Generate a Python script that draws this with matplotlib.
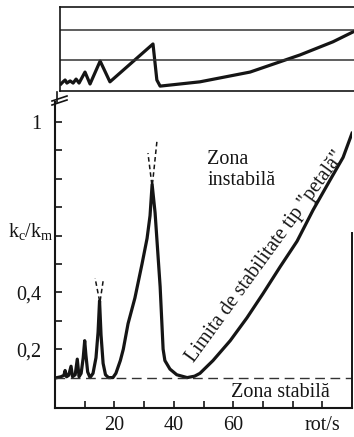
import matplotlib
matplotlib.use("Agg")
import matplotlib.pyplot as plt
from matplotlib.lines import Line2D

plt.rcParams['font.family'] = ['Liberation Serif', 'DejaVu Serif']
plt.rcParams['mathtext.fontset'] = 'custom'
plt.rcParams['mathtext.rm'] = 'Liberation Serif'
plt.rcParams['mathtext.it'] = 'Liberation Serif'

INK = '#151515'
FS = 14.5

# ---- main stability curve (k_c/k_m vs rot/s) ----
speed = [0.7, 2.0, 3.0, 3.4, 3.9, 4.6, 5.4, 5.9, 6.8, 7.5, 8.1, 8.8, 9.5, 10.0,
         10.4, 11.0, 11.8, 12.8, 13.8, 14.5, 15.0, 15.5, 16.2, 17.0, 18.0, 19.5,
         20.5, 22.0, 23.0, 24.6, 26.9, 29.3, 31.0, 32.0, 32.7, 33.7, 35.4, 36.4,
         37.0, 38.7, 41.0, 44.5, 47.0, 48.8, 53.2, 59.0, 64.6, 70.0, 75.8, 81.5,
         86.9, 92.6, 97.0, 100.0]
kratio = [0.100, 0.103, 0.108, 0.125, 0.103, 0.108, 0.140, 0.103, 0.110, 0.165,
          0.103, 0.115, 0.170, 0.230, 0.180, 0.120, 0.100, 0.115, 0.170, 0.260,
          0.370, 0.250, 0.150, 0.110, 0.100, 0.100, 0.115, 0.160, 0.200, 0.290,
          0.380, 0.500, 0.590, 0.670, 0.780, 0.680, 0.420, 0.200, 0.160, 0.130,
          0.110, 0.100, 0.105, 0.115, 0.160, 0.230, 0.310, 0.395, 0.490, 0.580,
          0.690, 0.795, 0.875, 0.960]

# dashed continuations of the two resonance peaks (start -> end)
dash_x = [[15.0, 13.5], [15.2, 16.2], [32.6, 31.3], [32.8, 34.3]]
dash_y = [[0.37, 0.45], [0.37, 0.44], [0.78, 0.89], [0.78, 0.93]]

stable_limit = 0.1

# ---- upper (compressed) panel ----
top_x = [2.0, 2.7, 3.4, 4.0, 5.1, 6.1, 7.1, 8.1, 10.1, 11.8, 15.2, 18.5,
         33.0, 34.3, 35.4, 48.8, 65.7, 82.5, 93.6, 100.7]
top_y = [0.23, 0.30, 0.36, 0.26, 0.33, 0.26, 0.39, 0.26, 0.62, 0.23, 0.98, 0.30,
         1.54, 0.36, 0.16, 0.30, 0.62, 1.18, 1.61, 1.95]
top_grid = [1, 2]

yticks = [0.2, 0.3, 0.4, 0.5, 0.6, 0.7, 0.8, 0.9, 1.0]
ytick_labels = ['0,2', '', '0,4', '', '', '', '', '', '1']
xticks = [10, 20, 30, 40, 50, 60, 70, 80, 90]
xtick_labels = ['', '20', '', '40', '', '60', '', '', 'rot/s']

W, H = 354, 437
fig = plt.figure(figsize=(W / 100, H / 100), dpi=100)
fig.patch.set_facecolor('white')

# main axes
ax = fig.add_axes([55 / W, (H - 408) / H, 297 / W, 306 / H])
ax.set_xlim(0, 100)
ax.set_ylim(-0.007, 1.07)
ax.plot(speed, kratio, color=INK, lw=2.3, solid_joinstyle='round')
for dx, dy in zip(dash_x, dash_y):
    ax.plot(dx, dy, color=INK, lw=1.1, ls=(0, (3, 2)))
ax.axhline(stable_limit, color='#333333', lw=1.0, ls=(0, (7, 4)))
ax.plot([100, 100], [-0.007, 0.61], color=INK, lw=1.4, clip_on=False)

for s in ['top', 'right']:
    ax.spines[s].set_visible(False)
for s in ['left', 'bottom']:
    ax.spines[s].set_linewidth(1.5)
    ax.spines[s].set_color(INK)

ax.set_yticks(yticks)
ax.set_yticklabels(ytick_labels, fontsize=FS)
ax.set_xticks(xticks)
ax.set_xticklabels(xtick_labels, fontsize=FS)
ax.tick_params(axis='both', direction='in', length=5, width=1.2, colors=INK)
ax.tick_params(axis='y', pad=10)
ax.tick_params(axis='x', pad=6)

ax.text(-0.158, 0.615, r'$\mathregular{k_c/k_m}$', transform=ax.get_yaxis_transform(),
        fontsize=FS, ha='left', va='center', color=INK)

ax.text(51.2, 0.83, 'Zona\ninstabilă', fontsize=FS, ha='left', va='center',
        color=INK, linespacing=1.15)
ax.text(71.0, 0.525, 'Limita de stabilitate tip "petală"', fontsize=FS,
        ha='center', va='center', rotation=54, rotation_mode='anchor', color=INK)
ax.text(76, 0.046, 'Zona stabilă', fontsize=FS, ha='center', va='center', color=INK)

# top axes
ax2 = fig.add_axes([60 / W, (H - 91) / H, 294 / W, 84 / H])
ax2.set_xlim(1.68, 100.7)
ax2.set_ylim(0, 2.75)
ax2.plot(top_x, top_y, color=INK, lw=2.3, solid_joinstyle='round')
for g in top_grid:
    ax2.axhline(g, color='#333333', lw=1.1)
ax2.spines['right'].set_visible(False)
for s in ['left', 'top', 'bottom']:
    ax2.spines[s].set_linewidth(1.2)
    ax2.spines[s].set_color(INK)
ax2.set_xticks([])
ax2.set_yticks([])

# axis break marks
for yb in (100, 104):
    fig.add_artist(Line2D([52 / W, 67 / W], [(H - yb - 1) / H, (H - yb + 4) / H],
                          color=INK, lw=1.2))
fig.add_artist(Line2D([57 / W, 57 / W], [(H - 92) / H, (H - 102) / H], color=INK, lw=1.2))

fig.savefig('out.png', dpi=100, facecolor='white')
